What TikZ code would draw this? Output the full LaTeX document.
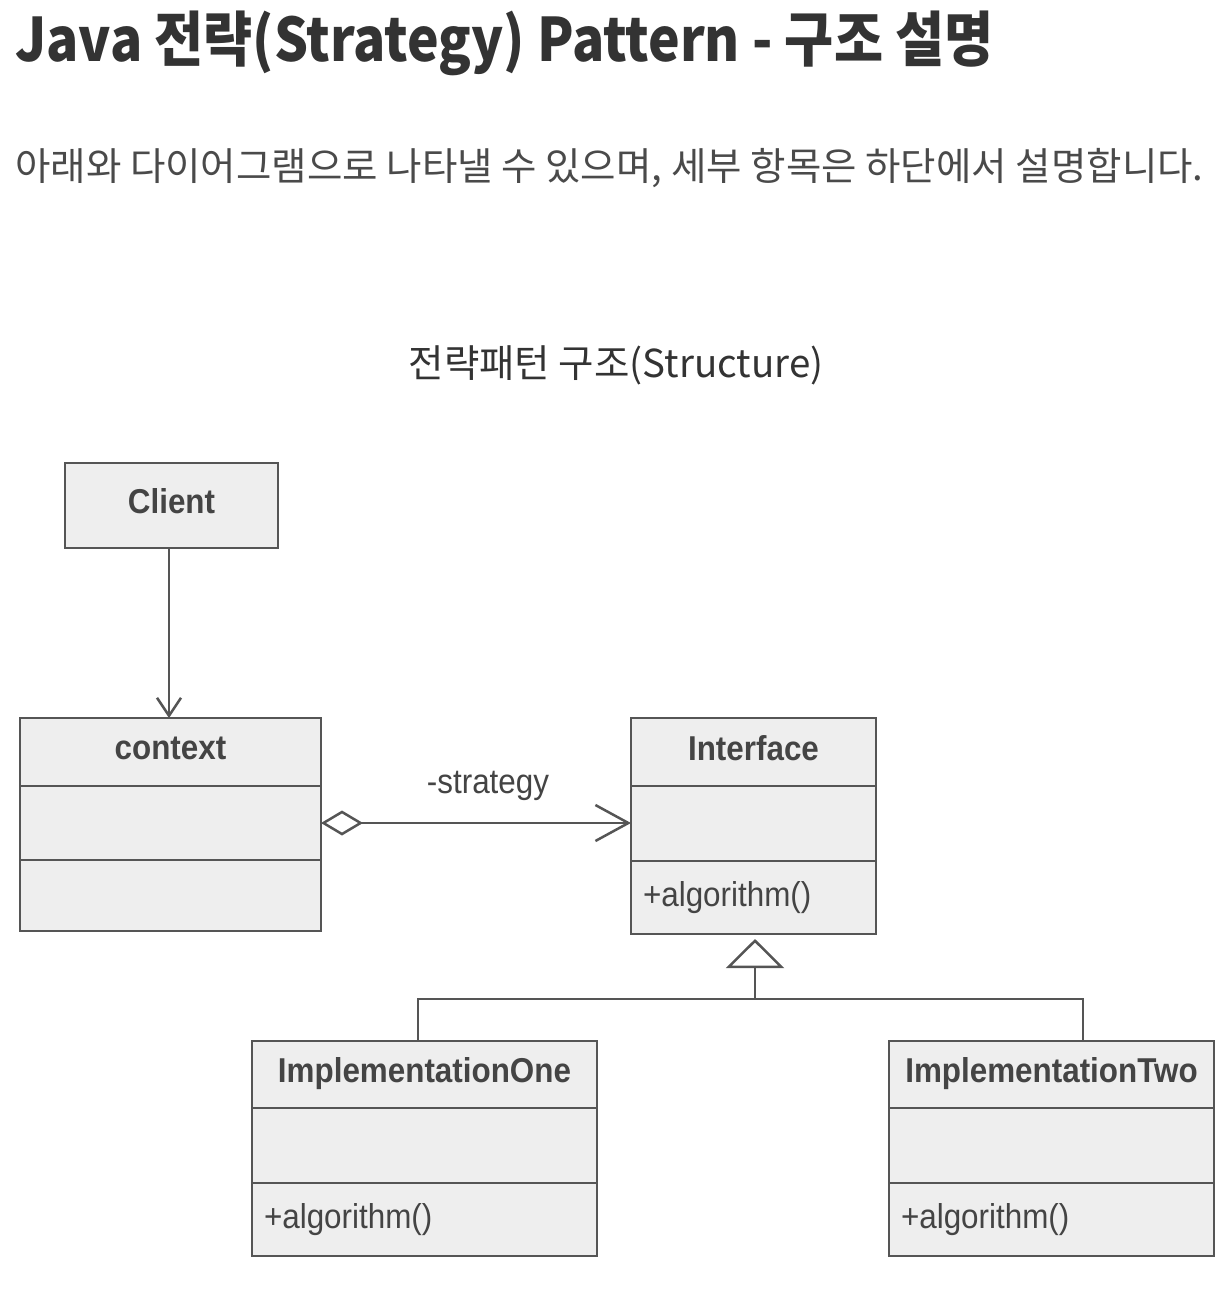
\documentclass[tikz,border=0pt]{standalone}
\usepackage{fontspec}
\setmainfont{Liberation Sans}[FakeStretch=0.91]
\newfontfamily\krfont{Noto Sans CJK KR}
\newfontfamily\krtitlefont{Noto Sans CJK KR}[FakeStretch=0.89]
\usetikzlibrary{positioning,arrows.meta}
\definecolor{umlline}{HTML}{555555}
\definecolor{umlfill}{HTML}{EEEEEE}
\definecolor{umltext}{HTML}{444444}
\definecolor{titletext}{HTML}{333333}
\definecolor{subtext}{HTML}{4A4A4A}
\tikzset{
  classhead/.style={draw=umlline, fill=umlfill, line width=2.5pt, text=umltext,
    font=\fontsize{34.5}{40}\selectfont\bfseries, text depth=8.5pt, inner sep=0pt, outer sep=0pt},
  classpart/.style={draw=umlline, fill=umlfill, line width=2.5pt, text=umltext,
    font=\fontsize{34.5}{40}\selectfont, inner sep=0pt, inner xsep=12pt, outer sep=0pt, align=left},
  umlarrow/.style={draw=umlline, line width=2.5pt},
}

\begin{document}
\begin{tikzpicture}[x=1pt, y=-1pt]
  \useasboundingbox (0,0) rectangle (1228,1306);

  \node [anchor=base west, inner sep=0pt, text=titletext,
    font=\fontsize{60}{70}\krtitlefont\bfseries] (title) at (15,62)
    {Java 전략(Strategy) Pattern - 구조 설명};
  \node [anchor=west, inner sep=0pt, text=subtext,
    font=\fontsize{38.5}{44}\krfont] (subtitle) at (15,168)
    {아래와 다이어그램으로 나타낼 수 있으며, 세부 항목은 하단에서 설명합니다.};
  \node [inner sep=0pt, text=titletext,
    font=\fontsize{38.5}{44}\krfont] (caption) at (616,365)
    {전략패턴 구조(Structure)};

  \node [classhead, anchor=north, minimum width=213pt, minimum height=85pt] (client) at (171.5,463) {Client};

  \node [classhead, anchor=north, minimum width=301pt, minimum height=68pt] (ctxh) at (170.5,718) {context};
  \node [classpart, minimum width=301pt, minimum height=74pt, below=0pt of ctxh] (ctxa) {};
  \node [classpart, minimum width=301pt, minimum height=71pt, below=0pt of ctxa] (ctxo) {};

  \node [classhead, anchor=north, minimum width=245pt, minimum height=68pt] (ifh) at (753.5,718) {Interface};
  \node [classpart, minimum width=245pt, minimum height=75pt, below=0pt of ifh] (ifa) {};
  \node [classpart, text width=221pt, minimum height=73pt, below=0pt of ifa] (ifo) {+algorithm()};

  \node [classhead, anchor=north, minimum width=345pt, minimum height=67pt] (oneh) at (424.5,1041) {ImplementationOne};
  \node [classpart, minimum width=345pt, minimum height=75pt, below=0pt of oneh] (onea) {};
  \node [classpart, text width=321pt, minimum height=73pt, below=0pt of onea] (oneo) {+algorithm()};

  \node [classhead, anchor=north, minimum width=325pt, minimum height=67pt] (twoh) at (1051.5,1041) {ImplementationTwo};
  \node [classpart, minimum width=325pt, minimum height=75pt, below=0pt of twoh] (twoa) {};
  \node [classpart, text width=301pt, minimum height=73pt, below=0pt of twoa] (twoo) {+algorithm()};

  \draw [umlarrow, -{Straight Barb[length=18pt, width=24pt]}] ([xshift=-2.5pt]client.south) -- ([xshift=-1.5pt]ctxh.north);

  \draw [umlarrow, {Diamond[open, length=42pt, width=25pt]}-{Straight Barb[length=33pt, width=36pt]}] (ctxa.east) -- (ctxa.east -| ifa.west);
  \node [text=umltext, font=\fontsize{34.5}{40}\selectfont, inner sep=0pt] (strategy) at (488,786) {-strategy};

  \coordinate (fork) at (755,999);
  \draw [umlarrow] ([xshift=-6.5pt]oneh.north) |- (fork) -| ([xshift=31.5pt]twoh.north);
  \draw [umlarrow, -{Triangle[open, length=29pt, width=58pt]}] (fork) -- ([xshift=1.5pt, yshift=-5pt]ifo.south);
\end{tikzpicture}
\end{document}
